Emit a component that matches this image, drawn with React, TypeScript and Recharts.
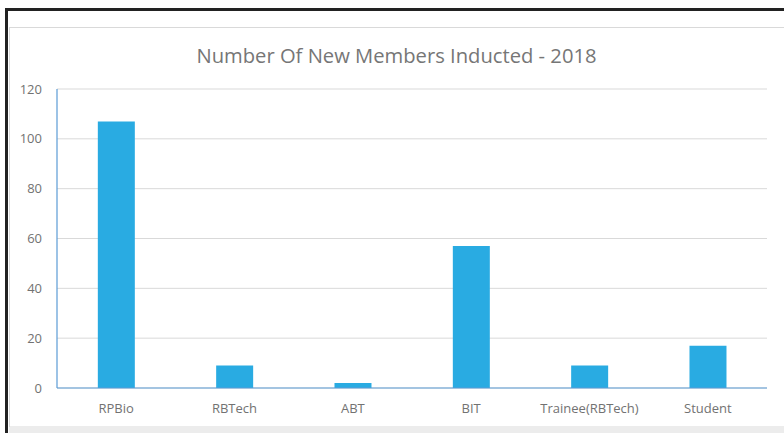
import React from "react";
import { BarChart, Bar, XAxis, YAxis, CartesianGrid } from "recharts";

const categories = ["RPBio", "RBTech", "ABT", "BIT", "Trainee(RBTech)", "Student"];
const members = [107, 9, 2, 57, 9, 17];
const yTicks = [0, 20, 40, 60, 80, 100, 120];
const title = "Number Of New Members Inducted - 2018";

const data = categories.map((name, i) => ({ name, value: members[i] }));

const FONT = "'Open Sans', sans-serif";

export default function App() {
  return (
    <div style={{ position: "absolute", left: 0, top: 0, width: 784, height: 433, background: "#fff", overflow: "hidden", fontFamily: FONT }}>
      {/* light gray bottom band */}
      <div style={{ position: "absolute", left: 9, top: 426, width: 775, height: 7, background: "#ececec" }} />
      {/* gray chart border */}
      <div style={{ position: "absolute", left: 9, top: 27, width: 775, height: 1, background: "#d9d9d9" }} />
      <div style={{ position: "absolute", left: 9, top: 27, width: 1, height: 400, background: "#d9d9d9" }} />
      {/* black frame */}
      <div style={{ position: "absolute", left: 5, top: 8, width: 779, height: 3, background: "#222" }} />
      <div style={{ position: "absolute", left: 5, top: 8, width: 3, height: 425, background: "#222" }} />
      <div style={{ position: "absolute", left: 0, top: 0 }}>
        <BarChart
          width={784}
          height={433}
          data={data}
          margin={{ top: 89, right: 17, bottom: 15, left: 0 }}
          barCategoryGap="34.5%"
        >
          <CartesianGrid vertical={false} stroke="#d9d9d9" />
          <XAxis
            dataKey="name"
            interval={0}
            tickLine={false}
            axisLine={{ stroke: "#5b9bd5", strokeWidth: 1.2 }}
            tick={{ fill: "#727272", fontSize: 13, fontFamily: FONT }}
            tickMargin={10}
            height={30}
          />
          <YAxis
            domain={[0, 120]}
            ticks={yTicks}
            width={57}
            tickLine={false}
            axisLine={{ stroke: "#5b9bd5", strokeWidth: 1.2 }}
            tick={{ fill: "#727272", fontSize: 13, fontFamily: FONT }}
            tickMargin={9}
          />
          <Bar dataKey="value" fill="#29abe2" isAnimationActive={false} />
        </BarChart>
      </div>
      <div
        style={{
          position: "absolute",
          left: 0,
          width: 793,
          top: 41,
          textAlign: "center",
          fontSize: 20.2,
          color: "#767676",
          fontFamily: FONT,
          lineHeight: "28px",
          whiteSpace: "nowrap",
        }}
      >
        {title}
      </div>
    </div>
  );
}
